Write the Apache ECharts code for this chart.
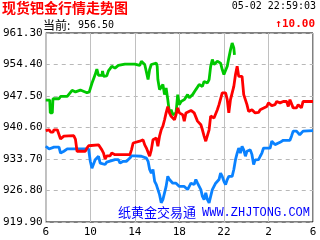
<!DOCTYPE html>
<html><head><meta charset="utf-8">
<script src="https://cdn.jsdelivr.net/npm/echarts@6/dist/echarts.min.js"></script>
<style>html,body{margin:0;padding:0;background:#fff}#c{width:320px;height:240px}</style>
</head><body><div id="c"></div>
<script>
// hours after 06:00
var xTickLabels = ['6','10','14','18','22','2','6'];
var yMin = 919.9, yMax = 961.3, yStep = 6.9;

var greenHours = [0,0.36,0.41,0.59,0.65,1.19,1.33,1.93,2.07,2.37,2.67,3.11,3.70,3.91,4.0,4.15,4.44,4.59,4.74,5.04,5.10,5.19,5.48,5.63,5.93,6.22,
 6.52,7.11,8.0,8.44,8.59,8.74,8.89,9.04,9.19,9.33,9.48,9.63,9.93,10.01,10.07,10.22,10.37,10.52,10.67,10.81,10.96,11.11,11.26,11.41,11.70,11.85,12.0,12.15,12.44,
 12.74,12.89,13.19,13.48,13.78,14.07,14.22,14.52,14.67,14.81,14.96,15.11,15.26,15.41,15.56,15.70,15.85,16.0,16.15,16.30,16.44,16.59,16.74,16.89,16.95];
var greenValues = [946.6,946.6,943.8,943.8,946.9,946.9,947.4,947.4,947.8,948.75,948.4,948.8,948.2,948.4,948.0,950.3,952.2,953.4,952.0,952.0,953.0,951.8,951.9,953.0,954.0,953.6,
 954.2,954.5,954.5,954.2,955.1,955.45,954.4,954.0,951.1,953.3,954.4,954.7,954.7,954.0,951.1,948.9,949.25,950.0,947.8,949.25,946.7,943.8,944.5,943.4,943.8,947.8,945.6,946.3,946.7,
 947.8,947.1,947.8,948.9,950.0,949.6,950.7,950.35,951.1,954.0,955.5,954.4,954.4,955.1,955.5,954.7,953.3,952.2,952.5,954.0,955.8,957.6,959.1,958.0,956.5];

var redHours = [0,0.30,0.44,0.65,0.74,1.04,1.19,1.33,1.48,1.63,1.78,2.52,2.67,2.81,3.56,3.70,3.85,4.0,4.74,4.89,5.04,5.19,5.33,5.48,5.78,5.93,6.22,
 7.56,7.70,7.85,8.44,8.59,8.74,8.89,9.04,9.19,9.33,9.48,9.63,9.78,9.93,10.07,10.22,10.37,10.52,10.67,10.81,10.96,11.11,11.26,11.41,11.56,11.70,11.85,12.0,12.30,12.44,
 12.59,12.74,13.04,13.33,13.48,13.63,13.78,13.93,14.07,14.22,14.37,14.52,14.67,14.81,14.96,15.11,15.26,15.41,15.56,15.70,15.85,16.0,16.15,16.30,16.44,16.59,16.74,16.89,17.04,17.19,17.33,17.48,17.63,17.78,17.93,18.07,18.22,18.37,18.52,18.67,
 18.81,18.96,19.11,19.26,19.41,19.85,20.0,20.15,20.30,20.44,20.59,20.74,20.89,21.04,21.19,21.33,21.48,21.63,21.78,21.93,22.07,22.22,22.52,22.67,22.81,22.96,23.11,24.0];
var redValues = [939.9,940.1,939.6,939.6,940.1,940.1,940.3,938.1,938.1,938.7,938.8,938.8,938.0,935.4,935.4,936.1,936.6,936.8,936.8,937.2,935.7,935.0,933.7,934.4,934.4,935.0,934.65,
 934.65,935.7,937.2,937.6,937.2,937.9,936.8,936.1,935.7,934.3,935.7,937.9,937.9,938.3,936.5,938.7,940.1,940.9,942.3,943.8,945.2,943.8,943.05,943.4,942.3,943.4,944.9,943.8,943.4,942.0,
 943.8,944.1,944.35,943.8,944.1,942.0,941.6,941.2,940.1,938.7,937.6,938.0,940.1,943.1,942.7,942.7,943.1,944.5,945.6,946.0,948.2,948.5,948.2,946.7,943.8,946.7,946.3,949.6,952.2,954.0,951.8,952.2,951.8,947.8,947.4,945.6,944.1,943.8,944.5,944.1,
 943.8,943.4,943.9,944.5,944.9,945.2,946.0,945.6,945.4,945.8,945.6,946.3,946.7,946.0,945.6,946.3,946.0,946.3,945.2,946.7,947.1,944.9,944.9,945.6,945.2,944.9,946.3,946.3];

var blueHours = [0,0.15,0.30,0.44,0.74,1.19,1.33,1.48,1.63,1.78,1.93,3.56,3.70,3.85,4.0,4.15,4.30,4.44,4.59,4.74,4.89,5.04,5.33,5.48,5.63,6.22,
 6.52,6.67,6.81,6.96,7.26,7.41,7.56,7.70,8.0,8.15,8.59,8.74,9.04,9.19,9.33,9.48,9.63,9.78,9.93,10.07,10.22,10.37,10.52,10.67,10.81,10.96,11.11,11.26,11.41,11.56,11.70,11.85,12.0,12.44,
 12.59,12.74,12.89,13.04,13.19,13.33,13.48,13.63,13.78,13.93,14.07,14.22,14.37,14.52,14.67,14.81,14.96,15.11,15.26,15.41,15.56,15.70,15.85,16.0,16.15,16.30,16.44,16.59,16.74,16.89,17.04,17.19,17.33,17.48,17.63,17.78,17.93,18.07,18.22,18.37,18.52,18.67,
 18.81,18.96,19.11,19.26,19.41,19.56,19.70,19.85,20.0,20.15,20.30,20.44,20.59,20.74,21.04,21.19,21.33,21.93,22.07,22.22,22.37,22.52,22.67,22.81,22.96,23.11,23.26,24.0];
var blueValues = [936.5,936.1,935.9,936.1,936.3,936.3,935.0,935.0,935.4,935.6,935.9,935.9,936.1,935.9,933.2,931.7,932.1,933.55,933.9,934.3,932.8,933.2,932.5,933.0,933.3,933.55,
 933.55,932.8,932.5,933.2,933.2,933.55,933.9,934.4,934.4,934.3,934.3,933.9,933.9,933.2,931.4,930.6,931.4,928.8,928.1,927.7,925.9,924.1,924.8,925.2,927.7,929.9,929.2,928.8,928.4,928.8,928.4,928.1,927.7,927.7,
 928.1,927.0,927.7,928.4,928.1,928.1,929.2,928.4,927.7,927.0,925.5,924.8,926.3,924.8,924.1,925.5,927.0,927.7,928.4,928.4,929.2,930.6,929.9,928.8,928.1,929.2,929.9,930.3,929.9,931.4,933.55,935.0,936.1,935.0,936.5,935.7,934.3,935.4,935.0,935.7,934.65,932.5,
 933.5,933.9,933.55,934.3,935.0,936.1,936.5,936.1,936.5,936.1,937.6,937.2,936.85,937.2,937.35,937.6,937.8,937.8,938.7,939.8,939.4,939.8,939.4,939.0,939.4,939.8,939.9,939.9];

function pairs(h, v) { return h.map(function (x, i) { return [x, +(v[i] - yMin).toFixed(3)]; }); }

var chart = echarts.init(document.getElementById('c'), null, {renderer: 'canvas'});
var mono = '"DejaVu Sans Mono", "Liberation Mono", monospace';
var cjk = '"Noto Sans CJK SC", sans-serif';
function lineSeries(name, h, v, color) {
  return {name: name, type: 'line', data: pairs(h, v), showSymbol: false, symbol: 'none',
    lineStyle: {color: color, width: 2.8}, animation: false, silent: true};
}
chart.setOption({
  animation: false,
  grid: {left: 43, top: 33, right: 7, bottom: 18, show: true, borderColor: '#000', borderWidth: 1, backgroundColor: 'transparent'},
  xAxis: {type: 'value', min: 0, max: 24, interval: 4,
    axisLine: {show: false}, axisTick: {show: false},
    axisLabel: {color: '#000', fontSize: 11, fontFamily: mono, margin: 5,
      formatter: function (v) { return xTickLabels[Math.round(v / 4)]; }},
    splitLine: {show: true, lineStyle: {color: '#c0c0c0', width: 1, type: 'solid'}}},
  yAxis: {type: 'value', min: 0, max: +(yMax - yMin).toFixed(2), interval: yStep,
    axisLine: {show: false}, axisTick: {show: false},
    axisLabel: {color: '#000', fontSize: 11, fontFamily: mono, margin: 3,
      formatter: function (v) { return (v + yMin).toFixed(2); }},
    splitLine: {show: true, lineStyle: {color: '#b8b8b8', width: 1, type: [4, 4]}}},
  series: [
    lineSeries('green', greenHours, greenValues, '#00c800'),
    lineSeries('blue', blueHours, blueValues, '#0a82ff'),
    lineSeries('red', redHours, redValues, '#ff0000')
  ],
  graphic: [
    {type: 'text', left: 2, top: 1, style: {text: '现货钯金行情走势图', fill: '#ff0000', font: 'bold 14px ' + cjk}},
    {type: 'text', right: 4, top: 1, style: {text: '05-02 22:59:03', fill: '#000', font: '10px ' + mono}},
    {type: 'text', left: 43, top: 19, style: {text: '当前:', fill: '#000', font: '12px ' + cjk}},
    {type: 'text', left: 78, top: 20, style: {text: '956.50', fill: '#000', font: '10px ' + mono}},
    {type: 'text', right: 5, top: 19, style: {text: '↑10.00', fill: '#ff0000', font: 'bold 11px ' + mono}},
    {type: 'text', left: 118, top: 206, z: 1, style: {text: '纸黄金交易通', fill: '#0000ff', font: '13px ' + cjk}},
    {type: 'text', left: 202, top: 207, z: 1, style: {text: 'WWW.ZHJTONG.COM', fill: '#0000ff', font: '12px "Liberation Mono", monospace'}}
  ]
});
</script></body></html>
